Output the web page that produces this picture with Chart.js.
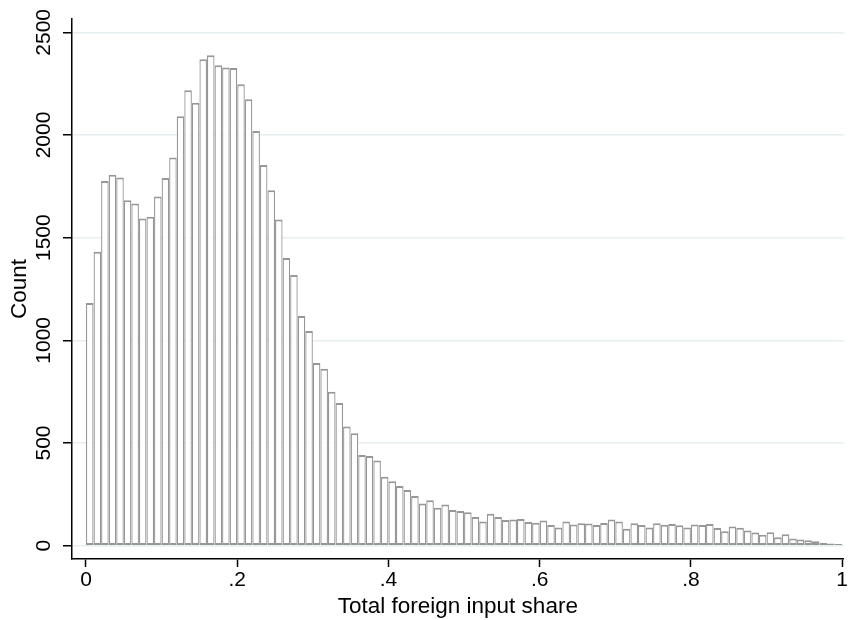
<!DOCTYPE html>
<html>
<head>
<meta charset="utf-8">
<script src="https://cdn.jsdelivr.net/npm/chart.js@4/dist/chart.umd.min.js"></script>
<style>
  html, body { margin: 0; padding: 0; background: #fff; }
  #wrap { width: 849px; height: 620px; }
</style>
</head>
<body>
<div id="wrap"><canvas id="hist"></canvas></div>
<script>
// histogram bins: 100 bins of width .01 starting at 0
const binStart = 0;
const binWidth = 0.01;
const counts = [
  1182, 1431, 1776, 1807, 1793, 1682, 1666, 1593, 1602, 1701,
  1791, 1891, 2091, 2218, 2157, 2369, 2389, 2340, 2329, 2326,
  2247, 2174, 2020, 1854, 1731, 1588, 1401, 1318, 1119, 1046,
  890, 862, 749, 695, 580, 547, 442, 437, 415, 336,
  314, 290, 271, 242, 205, 221, 184, 200, 174, 169,
  163, 140, 118, 155, 140, 125, 127, 130, 115, 111,
  123, 101, 88, 118, 103, 109, 108, 101, 110, 127,
  118, 82, 109, 101, 88, 109, 102, 105, 99, 88,
  103, 101, 106, 86, 70, 93, 87, 74, 64, 53,
  65, 41, 55, 35, 30, 26, 21, 13, 10, 8
];
const xTicks = [0, 0.2, 0.4, 0.6, 0.8, 1];
const xTickLabels = ['0', '.2', '.4', '.6', '.8', '1'];
const yTicks = [0, 500, 1000, 1500, 2000, 2500];
const yTickLabels = ['0', '500', '1000', '1500', '2000', '2500'];

const family = '"Liberation Sans", Arial, Helvetica, sans-serif';
const tickFont = { family, size: 21 };
const titleFont = { family, size: 22.5 };

const points = counts.map((c, i) => ({ x: binStart + (i + 0.5) * binWidth, y: c }));

new Chart(document.getElementById('hist'), {
  type: 'bar',
  data: {
    datasets: [{
      data: points,
      backgroundColor: '#ffffff',
      borderColor: '#979797',
      borderWidth: { top: 2, left: 1.3, right: 1.3, bottom: 2 },
      borderSkipped: false,
      inflateAmount: 0,
      barPercentage: 1,
      categoryPercentage: 1
    }]
  },
  options: {
    responsive: true,
    maintainAspectRatio: false,
    animation: false,
    layout: { padding: { top: 19, right: 4, left: 0, bottom: 0 } },
    plugins: { legend: { display: false }, tooltip: { enabled: false } },
    scales: {
      x: {
        type: 'linear',
        offset: false,
        min: -0.0185,
        max: 1.002,
        afterBuildTicks: s => { s.ticks = xTicks.map(v => ({ value: v })); },
        afterFit: s => { s.height = 61; },
        border: { color: '#000', width: 1.5 },
        grid: { offset: false, drawOnChartArea: false, tickColor: '#000', tickLength: 8, tickWidth: 1.5 },
        ticks: {
          color: '#000', font: tickFont, padding: 1, maxRotation: 0,
          callback: v => xTickLabels[xTicks.indexOf(v)] ?? ''
        },
        title: { display: true, text: 'Total foreign input share', color: '#000', font: titleFont, padding: { top: 0, bottom: 0 } }
      },
      y: {
        min: -65,
        max: 2565,
        afterBuildTicks: s => { s.ticks = yTicks.map(v => ({ value: v })); },
        afterFit: s => { s.width = 72; },
        border: { color: '#000', width: 1.5 },
        grid: { color: '#e5eef0', lineWidth: 1.5, tickColor: '#000', tickLength: 9, tickWidth: 1.5 },
        ticks: {
          color: '#000', font: tickFont, padding: -5, minRotation: 90, maxRotation: 90, crossAlign: 'center',
          callback: v => yTickLabels[yTicks.indexOf(v)] ?? ''
        },
        title: { display: true, text: 'Count', color: '#000', font: titleFont, padding: { top: 6.5, bottom: 0 } }
      }
    }
  }
});
</script>
</body>
</html>
